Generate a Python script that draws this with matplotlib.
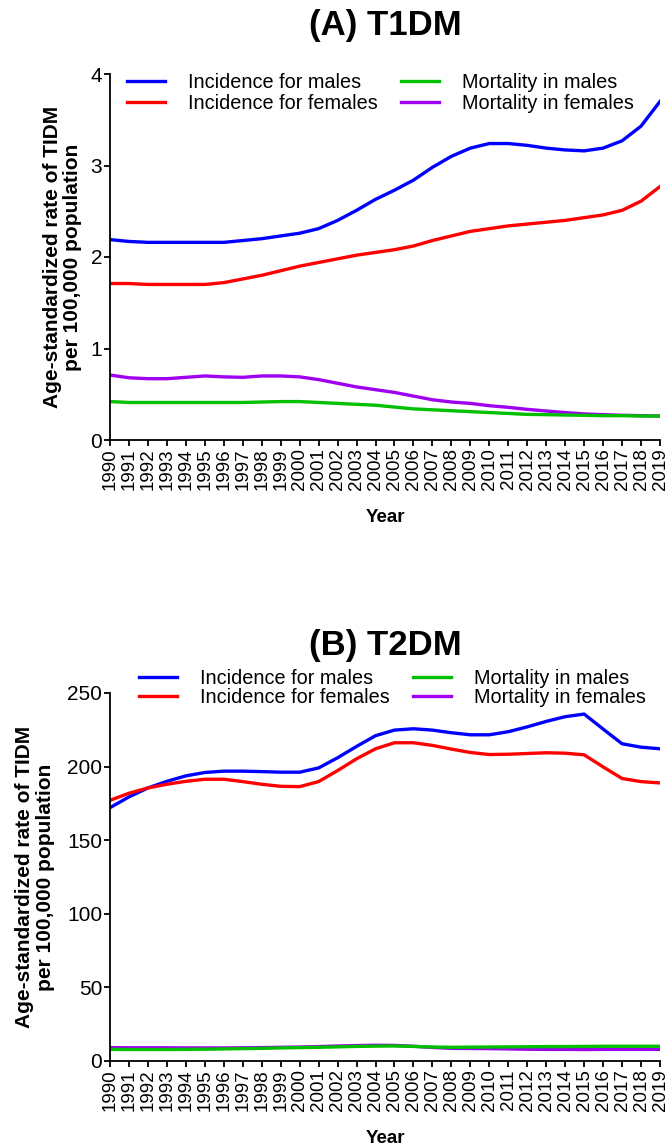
import numpy as np
import matplotlib
matplotlib.use('Agg')
import matplotlib.pyplot as plt

plt.rcParams['font.family'] = ['Liberation Sans', 'DejaVu Sans']

years = list(range(1990, 2020))

# (A) T1DM, rate per 100,000
t1_inc_m = [2.19, 2.17, 2.16, 2.16, 2.16, 2.16, 2.16, 2.18, 2.20, 2.23, 2.26, 2.31, 2.40, 2.51, 2.63,
            2.73, 2.84, 2.98, 3.10, 3.19, 3.24, 3.24, 3.22, 3.19, 3.17, 3.16, 3.19, 3.27, 3.43, 3.70]
t1_inc_f = [1.71, 1.71, 1.70, 1.70, 1.70, 1.70, 1.72, 1.76, 1.80, 1.85, 1.90, 1.94, 1.98, 2.02, 2.05,
            2.08, 2.12, 2.18, 2.23, 2.28, 2.31, 2.34, 2.36, 2.38, 2.40, 2.43, 2.46, 2.51, 2.61, 2.77]
t1_mort_m = [0.42, 0.41, 0.41, 0.41, 0.41, 0.41, 0.41, 0.41, 0.415, 0.42, 0.42, 0.41, 0.40, 0.39, 0.38,
             0.36, 0.34, 0.33, 0.32, 0.31, 0.30, 0.29, 0.28, 0.277, 0.273, 0.27, 0.266, 0.266, 0.262, 0.262]
t1_mort_f = [0.71, 0.68, 0.67, 0.67, 0.685, 0.70, 0.69, 0.685, 0.70, 0.70, 0.69, 0.66, 0.62, 0.58, 0.55,
             0.52, 0.48, 0.44, 0.415, 0.40, 0.375, 0.357, 0.335, 0.317, 0.30, 0.285, 0.277, 0.27, 0.266, 0.262]

# (B) T2DM, rate per 100,000
t2_inc_m = [172.1, 179.4, 185.5, 190.0, 193.7, 196.0, 196.9, 196.9, 196.6, 196.2, 196.2, 199.1, 206.0, 213.7, 221.0,
            224.8, 225.7, 224.8, 223.0, 221.6, 221.6, 223.7, 227.0, 230.7, 233.9, 235.7, 225.5, 215.5, 213.2, 212.1]
t2_inc_f = [177.1, 181.9, 185.5, 188.0, 190.0, 191.4, 191.4, 189.8, 188.0, 186.6, 186.4, 189.8, 197.3, 205.3, 212.1,
            216.2, 216.2, 214.4, 211.9, 209.6, 208.2, 208.4, 208.9, 209.4, 209.1, 208.0, 199.8, 191.9, 189.8, 188.9]
t2_mort_m = [7.9, 7.8, 7.8, 7.8, 7.9, 8.0, 8.2, 8.4, 8.6, 8.9, 9.1, 9.3, 9.6, 9.9, 10.1,
             10.2, 9.9, 9.5, 9.3, 9.4, 9.5, 9.6, 9.7, 9.8, 9.8, 9.9, 10.0, 10.0, 10.0, 10.0]
t2_mort_f = [9.1, 9.0, 9.0, 9.0, 8.9, 8.9, 8.9, 9.0, 9.1, 9.3, 9.5, 9.8, 10.2, 10.5, 10.7,
             10.6, 10.0, 9.2, 8.6, 8.5, 8.4, 8.2, 8.0, 7.9, 7.9, 7.8, 7.9, 7.9, 7.9, 7.9]

labels = ['Incidence for males', 'Incidence for females', 'Mortality in males', 'Mortality in females']
colors = ['#0000ff', '#ff0000', '#00c000', '#a000f0']

W, H = 668, 1146
fig = plt.figure(figsize=(W / 100, H / 100), dpi=100)


def panel(rect, series, ymax, step, title, title_y, leg_xy, leg_sp, ylab_x):
    ax = fig.add_axes(rect)
    hs = {}
    for i in [0, 1, 3, 2]:
        hs[i], = ax.plot(years, series[i], color=colors[i], lw=2.4)
    ax.set_xlim(1990, 2019)
    ax.set_ylim(0, ymax)
    ax.set_yticks(np.arange(0, ymax + step / 2, step))
    ax.set_xticks(years)
    ax.set_xticklabels([str(y) for y in years], rotation=90, fontsize=13.5)
    ax.tick_params(axis='y', labelsize=15, length=4, width=1.3, pad=1.5)
    ax.tick_params(axis='x', length=4, width=1.3, pad=2)
    for s in ['top', 'right']:
        ax.spines[s].set_visible(False)
    for s in ['left', 'bottom']:
        ax.spines[s].set_linewidth(1.3)
    ax.set_ylabel('Age-standardized rate of TIDM\nper 100,000 population',
                  fontsize=15, fontweight='bold', linespacing=1.1)
    ax.yaxis.set_label_coords(ylab_x, 0.5)
    ax.set_xlabel('Year', fontsize=13.5, fontweight='bold')
    ax.xaxis.set_label_coords(0.5, -0.188)
    fig.text(385 / W, 1 - title_y / H, title, ha='center', va='center',
             fontsize=25, fontweight='bold')
    fig.legend([hs[i] for i in range(4)], labels, loc='upper left',
               bbox_to_anchor=(leg_xy[0] / W, 1 - leg_xy[1] / H),
               ncol=2, frameon=False, fontsize=14.3, borderpad=0, borderaxespad=0,
               handlelength=1.9, handletextpad=1.15, columnspacing=1.2,
               labelspacing=leg_sp)
    return ax


panel([110 / W, 1 - 440 / H, 550 / W, 366 / H],
      [t1_inc_m, t1_inc_f, t1_mort_m, t1_mort_f], 4, 1, '(A) T1DM', 25,
      (127, 73), 0.12, -0.05)
panel([110 / W, 1 - 1061 / H, 550 / W, 368 / H],
      [t2_inc_m, t2_inc_f, t2_mort_m, t2_mort_f], 250, 50, '(B) T2DM', 645,
      (139, 669), 0.0, -0.1)

fig.savefig('out.png', dpi=100)
